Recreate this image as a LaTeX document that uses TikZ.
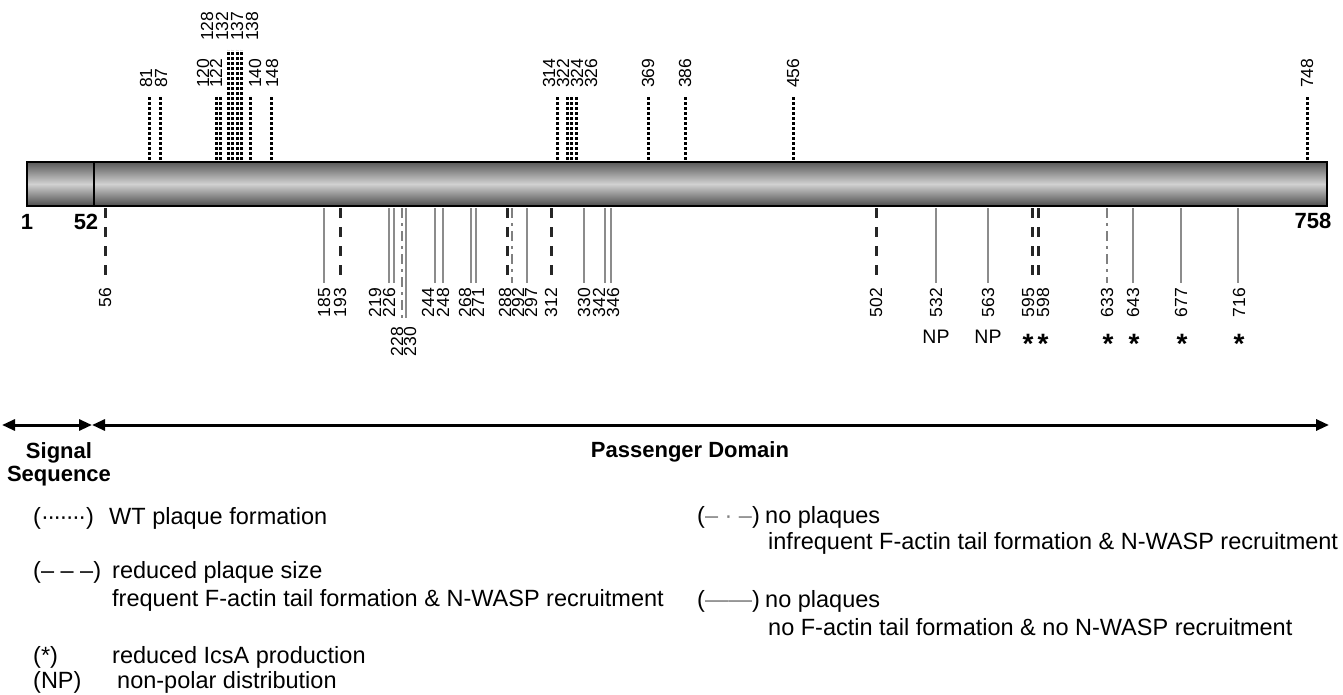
\documentclass[tikz,border=0pt]{standalone}
\usepackage{fontspec}
\setmainfont{Liberation Sans}
\usetikzlibrary{arrows.meta}

\tikzset{
  etiq/.style={font=\fontsize{17.5}{19}\selectfont, inner sep=0pt, rotate=90},
  wtlinea/.style={line width=3pt, black, dash pattern=on 3pt off 2pt},
  reducida/.style={line width=3pt, black!85, dash pattern=on 10pt off 9pt},
  infrecuente/.style={line width=2.5pt, gray, dash pattern=on 10pt off 5pt on 3pt off 5pt},
  nopl/.style={line width=2.2pt, gray!90},
  posnum/.style={font=\fontsize{22}{24}\selectfont\bfseries, inner sep=0pt},
  fenotipo/.style={font=\fontsize{19.5}{21}\selectfont, inner sep=0pt},
  leyenda/.style={font=\fontsize{23.5}{28}\selectfont, anchor=base west, inner sep=0pt},
  flecha/.style={line width=3pt, {Triangle[length=13pt,width=11pt]}-{Triangle[length=13pt,width=11pt]}}
}
\newcommand{\puntitos}{\foreach \i in {1,...,7}{\textperiodcentered\kern-1.6pt}\kern1.6pt}

\begin{document}
\begin{tikzpicture}[x=1pt, y=-1pt]
  \useasboundingbox (0,0) rectangle (1343,695);

  % Proteina
  \shade[top color=black!65, bottom color=black!70, middle color=black!18]
    (27,162) rectangle (1327,206);
  \draw[line width=1.5pt] (27,162) rectangle (1327,206);
  \draw[line width=1.2pt] (94,162) -- (94,206);
  \node[posnum] (p1) at (27,222) {1};
  \node[posnum] (p52) at (86,222) {52};
  \node[posnum] (p758) at (1313,221) {758};

  % Mutaciones arriba (placas WT)
  \foreach \r/\x/\lx in {81/149/146, 87/160/161, 120/216/203, 122/220/216,
      140/250/255, 148/271/272, 314/557/549, 322/567/563, 324/571/577,
      326/576/591, 369/648/648, 386/685/685, 456/793/793, 748/1307/1307} {
    \node[etiq, anchor=west] (t\r) at (\lx,88) {\r};
    \coordinate (b\r) at (\x,160);
    \draw[wtlinea] (b\r) -- (\x,97);
  }
  \foreach \r/\x/\lx in {128/228/207, 132/232/222, 137/237/237, 138/241/252} {
    \node[etiq, anchor=west] (t\r) at (\lx,41) {\r};
    \coordinate (b\r) at (\x,160);
    \draw[wtlinea] (b\r) -- (\x,50);
  }

  % Mutaciones abajo
  \foreach \r/\x/\lx/\s in {56/105/105/reducida, 185/324/324/nopl, 193/340/340/reducida,
      219/389/375/nopl, 226/394/389/nopl, 244/435/428/nopl, 248/443/443/nopl,
      268/471/465/nopl, 271/476/478/nopl, 288/507/505/reducida, 292/512/518/infrecuente,
      297/527/531/nopl, 312/551/551/reducida, 330/584/584/nopl, 342/605/599/nopl,
      346/611/613/nopl, 502/876/876/reducida, 532/936/936/nopl, 563/988/988/nopl,
      595/1032/1028/reducida, 598/1038/1043/reducida, 633/1107/1107/infrecuente,
      643/1133/1133/nopl, 677/1181/1181/nopl, 716/1238/1239/nopl} {
    \node[etiq, anchor=east] (m\r) at (\lx,288) {\r};
    \coordinate (a\r) at (\x,208);
    \draw[\s] (a\r) -- (\x,283);
  }
  \foreach \r/\x/\lx/\s in {228/402/397/infrecuente, 230/406/410/nopl} {
    \node[etiq, anchor=east] (m\r) at (\lx,327) {\r};
    \coordinate (a\r) at (\x,208);
    \draw[\s] (a\r) -- (\x,318);
  }

  % Fenotipos
  \foreach \r/\lx in {532/936, 563/988} {
    \node[fenotipo] (f\r) at (\lx,337) {NP};
  }
  \foreach \r/\lx in {595/1028, 598/1043, 633/1108, 643/1134, 677/1182, 716/1239} {
    \node[fenotipo, font=\fontsize{28}{28}\selectfont\bfseries] (f\r) at (\lx,344) {*};
  }

  % Dominios
  \coordinate (s0) at (2,425);
  \coordinate (s1) at (92,425);
  \coordinate (s2) at (1329,425);
  \draw[flecha] (s0) -- (s1);
  \draw[flecha] (s1) -- (s2);
  \node[posnum, align=center] (senal) at (59,464) {Signal\\[-1pt]Sequence};
  \node[posnum] (pasajero) at (690,452) {Passenger Domain};

  % Leyenda
  \node[leyenda] (l1) at (33,524) {(\puntitos)};
  \node[leyenda] (l1b) at (109,524) {WT plaque formation};
  \node[leyenda] (l2) at (33,578) {(– – –)};
  \node[leyenda] (l2b) at (112,578) {reduced plaque size};
  \node[leyenda] (l2c) at (112,606) {frequent F-actin tail formation \& N-WASP recruitment};
  \node[leyenda] (l3) at (33,663) {(*)};
  \node[leyenda] (l3b) at (112,663) {reduced IcsA production};
  \node[leyenda] (l4) at (33,688) {(NP)};
  \node[leyenda] (l4b) at (117,688) {non-polar distribution};
  \node[leyenda] (l5) at (697,523) {(\textcolor{gray}{– · –})};
  \node[leyenda] (l5b) at (765,523) {no plaques};
  \node[leyenda] (l5c) at (768,549) {infrequent F-actin tail formation \& N-WASP recruitment};
  \node[leyenda] (l6) at (697,607) {(\textcolor{gray}{——})};
  \node[leyenda] (l6b) at (765,607) {no plaques};
  \node[leyenda] (l6c) at (768,635) {no F-actin tail formation \& no N-WASP recruitment};
\end{tikzpicture}
\end{document}
